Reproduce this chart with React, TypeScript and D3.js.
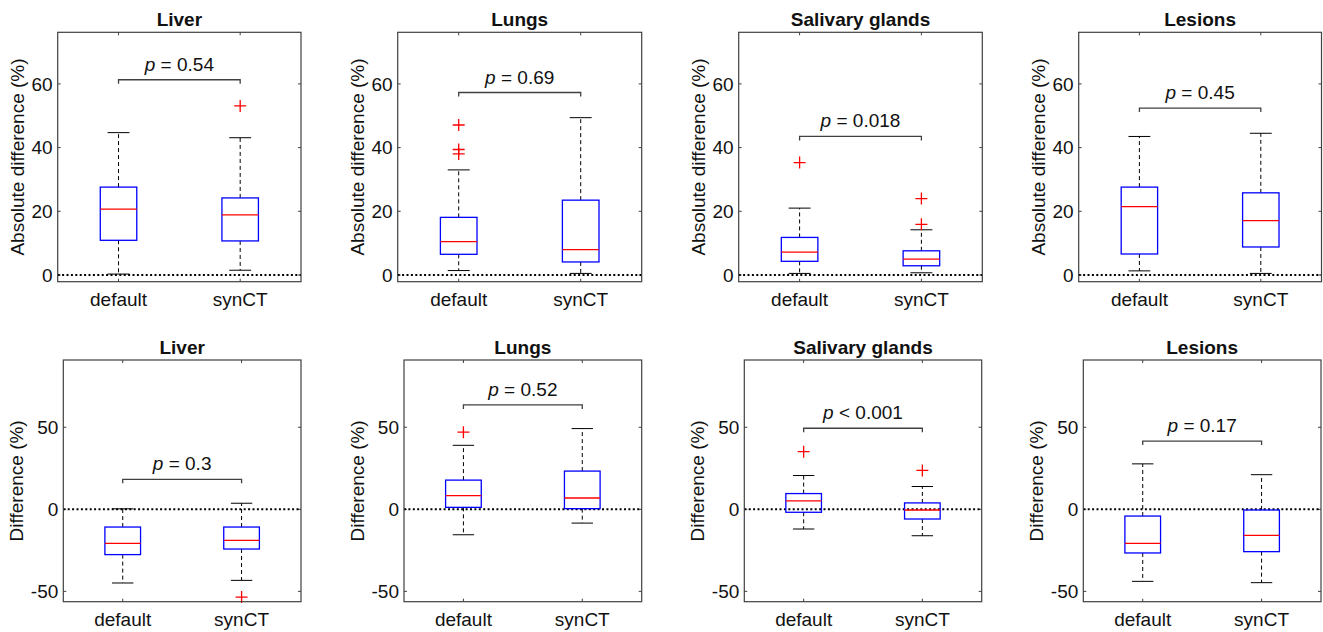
import React from "react";
import * as d3 from "d3";

const organs = ["Liver", "Lungs", "Salivary glands", "Lesions"];
const groups = ["default", "synCT"];

// five-number summaries: [lower whisker, q1, median, q3, upper whisker]
const absDefault = [
  [0.3, 10.9, 20.7, 27.6, 44.7],
  [1.4, 6.5, 10.5, 18.1, 33.0],
  [0.5, 4.3, 7.2, 11.8, 21.0],
  [1.3, 6.6, 21.5, 27.6, 43.5],
];
const absSynCT = [
  [1.5, 10.7, 18.9, 24.2, 43.1],
  [0.5, 4.1, 8.0, 23.5, 49.4],
  [0.7, 2.9, 5.0, 7.6, 14.2],
  [0.5, 8.8, 17.1, 25.8, 44.5],
];
const absOutDefault = [[], [47.1, 39.4, 38.0], [35.3], []];
const absOutSynCT = [[53.1], [], [24.0, 15.9], []];
const absPText = ["= 0.54", "= 0.69", "= 0.018", "= 0.45"];
const absBracket = [61.3, 57.3, 43.5, 52.4];
const absTicks = [0, 20, 40, 60];

const diffDefault = [
  [0.3, -27.6, -20.7, -10.8, 0.3],
  [-15.5, 1.2, 8.4, 17.8, 39.0],
  [-12.0, -1.8, 5.1, 9.6, 20.6],
  [-43.9, -26.6, -20.7, -4.1, 27.7],
];
diffDefault[0][0] = -44.9;
const diffSynCT = [
  [-43.3, -24.2, -18.9, -10.8, 3.7],
  [-8.4, 0.4, 6.9, 23.3, 49.2],
  [-16.1, -5.9, -0.4, 3.9, 13.9],
  [-44.7, -25.8, -15.9, -0.4, 21.1],
];
const diffOutDefault = [[], [47.0], [35.1], []];
const diffOutSynCT = [[-53.5], [], [23.7], []];
const diffPText = ["= 0.3", "= 0.52", "< 0.001", "= 0.17"];
const diffBracket = [18.3, 63.6, 49.4, 41.6];
const diffTicks = [-50, 0, 50];

const FONT = "'Liberation Sans', Arial, Helvetica, sans-serif";
const FS = 19;
const AX = "#404040";

type PanelProps = {
  left: number;
  right: number;
  top: number;
  bottom: number;
  yDomain: [number, number];
  ticks: number[];
  title: string;
  ylabel: string;
  labelOffset: number;
  stats: number[][];
  outliers: number[][];
  bracket: number;
  pText: string;
};

function Panel(p: PanelProps) {
  const x = d3.scaleLinear().domain([0.5, 2.5]).range([p.left, p.right]);
  const y = d3.scaleLinear().domain(p.yDomain).range([p.bottom, p.top]);
  const bw = 0.15;
  const cw = 0.09;
  const tl = 3;
  const midX = (x(1) + x(2)) / 2;
  const midY = (p.top + p.bottom) / 2;
  return (
    <g fontFamily={FONT} fontSize={FS} fill="#111">
      <text x={(p.left + p.right) / 2} y={p.top - 6} textAnchor="middle" fontWeight="bold">
        {p.title}
      </text>
      <text
        transform={`translate(${p.left - p.labelOffset},${midY}) rotate(-90)`}
        textAnchor="middle"
        dy="0.35em"
      >
        {p.ylabel}
      </text>
      {p.ticks.map((t) => (
        <g key={t}>
          <text x={p.left - 5} y={y(t)} dy="0.35em" textAnchor="end">
            {t}
          </text>
          <line x1={p.left} x2={p.left + tl} y1={y(t)} y2={y(t)} stroke={AX} />
          <line x1={p.right} x2={p.right - tl} y1={y(t)} y2={y(t)} stroke={AX} />
        </g>
      ))}
      {groups.map((g, i) => (
        <g key={g}>
          <text x={x(i + 1)} y={p.bottom + 24} textAnchor="middle">
            {g}
          </text>
          <line x1={x(i + 1)} x2={x(i + 1)} y1={p.bottom} y2={p.bottom - tl} stroke={AX} />
          <line x1={x(i + 1)} x2={x(i + 1)} y1={p.top} y2={p.top + tl} stroke={AX} />
        </g>
      ))}
      <line
        x1={p.left}
        x2={p.right}
        y1={y(0)}
        y2={y(0)}
        stroke="#000"
        strokeWidth={2}
        strokeDasharray="2 2.4"
      />
      {p.stats.map((s, i) => {
        const cx = x(i + 1);
        const [lo, q1, med, q3, hi] = s;
        return (
          <g key={i}>
            <line x1={cx} x2={cx} y1={y(q3)} y2={y(hi)} stroke="#000" strokeDasharray="4 3" />
            <line x1={cx} x2={cx} y1={y(q1)} y2={y(lo)} stroke="#000" strokeDasharray="4 3" />
            <line x1={x(i + 1 - cw)} x2={x(i + 1 + cw)} y1={y(hi)} y2={y(hi)} stroke="#000" />
            <line x1={x(i + 1 - cw)} x2={x(i + 1 + cw)} y1={y(lo)} y2={y(lo)} stroke="#000" />
            <rect
              x={x(i + 1 - bw)}
              y={y(q3)}
              width={x(i + 1 + bw) - x(i + 1 - bw)}
              height={y(q1) - y(q3)}
              fill="none"
              stroke="#0000ff"
              strokeWidth={1.3}
            />
            <line
              x1={x(i + 1 - bw)}
              x2={x(i + 1 + bw)}
              y1={y(med)}
              y2={y(med)}
              stroke="#ff0000"
              strokeWidth={1.3}
            />
            {p.outliers[i].map((o, j) => (
              <path
                key={j}
                d={`M${cx - 6},${y(o)}H${cx + 6}M${cx},${y(o) - 6}V${y(o) + 6}`}
                stroke="#ff0000"
                strokeWidth={1.3}
                fill="none"
              />
            ))}
          </g>
        );
      })}
      <path
        d={`M${x(1)},${y(p.bracket) + 4}V${y(p.bracket)}H${x(2)}V${y(p.bracket) + 4}`}
        stroke={AX}
        strokeWidth={1.3}
        fill="none"
      />
      <text x={midX} y={y(p.bracket) - 9} textAnchor="middle">
        <tspan fontStyle="italic">p</tspan> {p.pText}
      </text>
      <rect
        x={p.left}
        y={p.top}
        width={p.right - p.left}
        height={p.bottom - p.top}
        fill="none"
        stroke={AX}
        strokeWidth={1.2}
      />
    </g>
  );
}

const topLefts = [57.7, 397.7, 738.7, 1078.7];
const topRights = [301, 641.7, 982.3, 1321.5];
const botLefts = [63.3, 404, 744.3, 1083.3];
const botRights = [301, 641.7, 981.7, 1321];

export default function App() {
  return (
    <svg
      width={1323}
      height={632}
      style={{ position: "absolute", left: 0, top: 0, background: "#fff" }}
    >
      {organs.map((o, i) => (
        <Panel
          key={"a" + i}
          left={topLefts[i]}
          right={topRights[i]}
          top={32.3}
          bottom={281.7}
          yDomain={[-2.1, 76.2]}
          ticks={absTicks}
          title={o}
          ylabel="Absolute difference (%)"
          labelOffset={40}
          stats={[absDefault[i], absSynCT[i]]}
          outliers={[absOutDefault[i], absOutSynCT[i]]}
          bracket={absBracket[i]}
          pText={absPText[i]}
        />
      ))}
      {organs.map((o, i) => (
        <Panel
          key={"d" + i}
          left={botLefts[i]}
          right={botRights[i]}
          top={360}
          bottom={601.7}
          yDomain={[-56.3, 91]}
          ticks={diffTicks}
          title={o}
          ylabel="Difference (%)"
          labelOffset={46.5}
          stats={[diffDefault[i], diffSynCT[i]]}
          outliers={[diffOutDefault[i], diffOutSynCT[i]]}
          bracket={diffBracket[i]}
          pText={diffPText[i]}
        />
      ))}
    </svg>
  );
}
